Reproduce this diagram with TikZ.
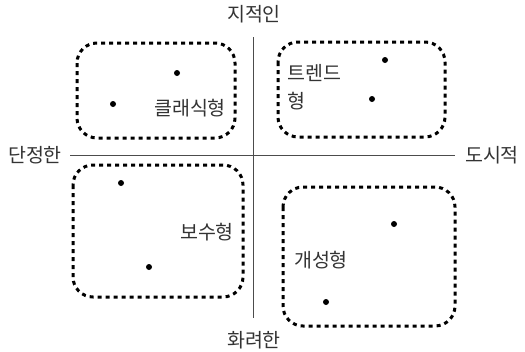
\documentclass[tikz,border=0pt]{standalone}
\usepackage{fontspec}
\newfontfamily\kr{Noto Sans CJK KR}
\begin{document}
\begin{tikzpicture}[x=1pt,y=-1pt,
  grp/.style={draw=black,line width=3pt,dash pattern=on 4pt off 4pt,rounded corners=20pt},
  lbl/.style={font=\kr\fontsize{19.5}{22}\selectfont,text=black!80,inner sep=0pt},
  pt/.style={circle,fill=black,inner sep=0pt,minimum size=6pt},
  axis/.style={draw=black!70,line width=0.8pt}]
\useasboundingbox (0,0) rectangle (525,351);
% axes
\coordinate (vt) at (253,37);
\coordinate (vb) at (253,318);
\coordinate (hl) at (70,155);
\coordinate (hr) at (455,155);
\draw[axis] (vt) -- (vb);
\draw[axis] (hl) -- (hr);
% axis labels
\node[lbl] (top) at (254,14) {지적인};
\node[lbl] (bot) at (254,340) {화려한};
\node[lbl] (left) at (35,155) {단정한};
\node[lbl] (right) at (492,155) {도시적};
% groups
\draw[grp] (77,43) rectangle (235,138);
\draw[grp] (278,42) rectangle (445,137);
\draw[grp] (73,165) rectangle (243,297);
\draw[grp] (283,187) rectangle (455,326);
% points
\node[pt] (p1) at (177,73) {};
\node[pt] (p2) at (113,104) {};
\node[pt] (p3) at (385,60) {};
\node[pt] (p4) at (372,99) {};
\node[pt] (p5) at (121,183) {};
\node[pt] (p6) at (149,267) {};
\node[pt] (p7) at (394,224) {};
\node[pt] (p8) at (326,302) {};
% group labels
\node[lbl] (c) at (190,108) {클래식형};
\node[lbl,anchor=west] (t1) at (287,73) {트렌드};
\node[lbl,anchor=west] (t2) at (287,101) {형};
\node[lbl] (b) at (207,232) {보수형};
\node[lbl] (g) at (321,260) {개성형};
\end{tikzpicture}
\end{document}
